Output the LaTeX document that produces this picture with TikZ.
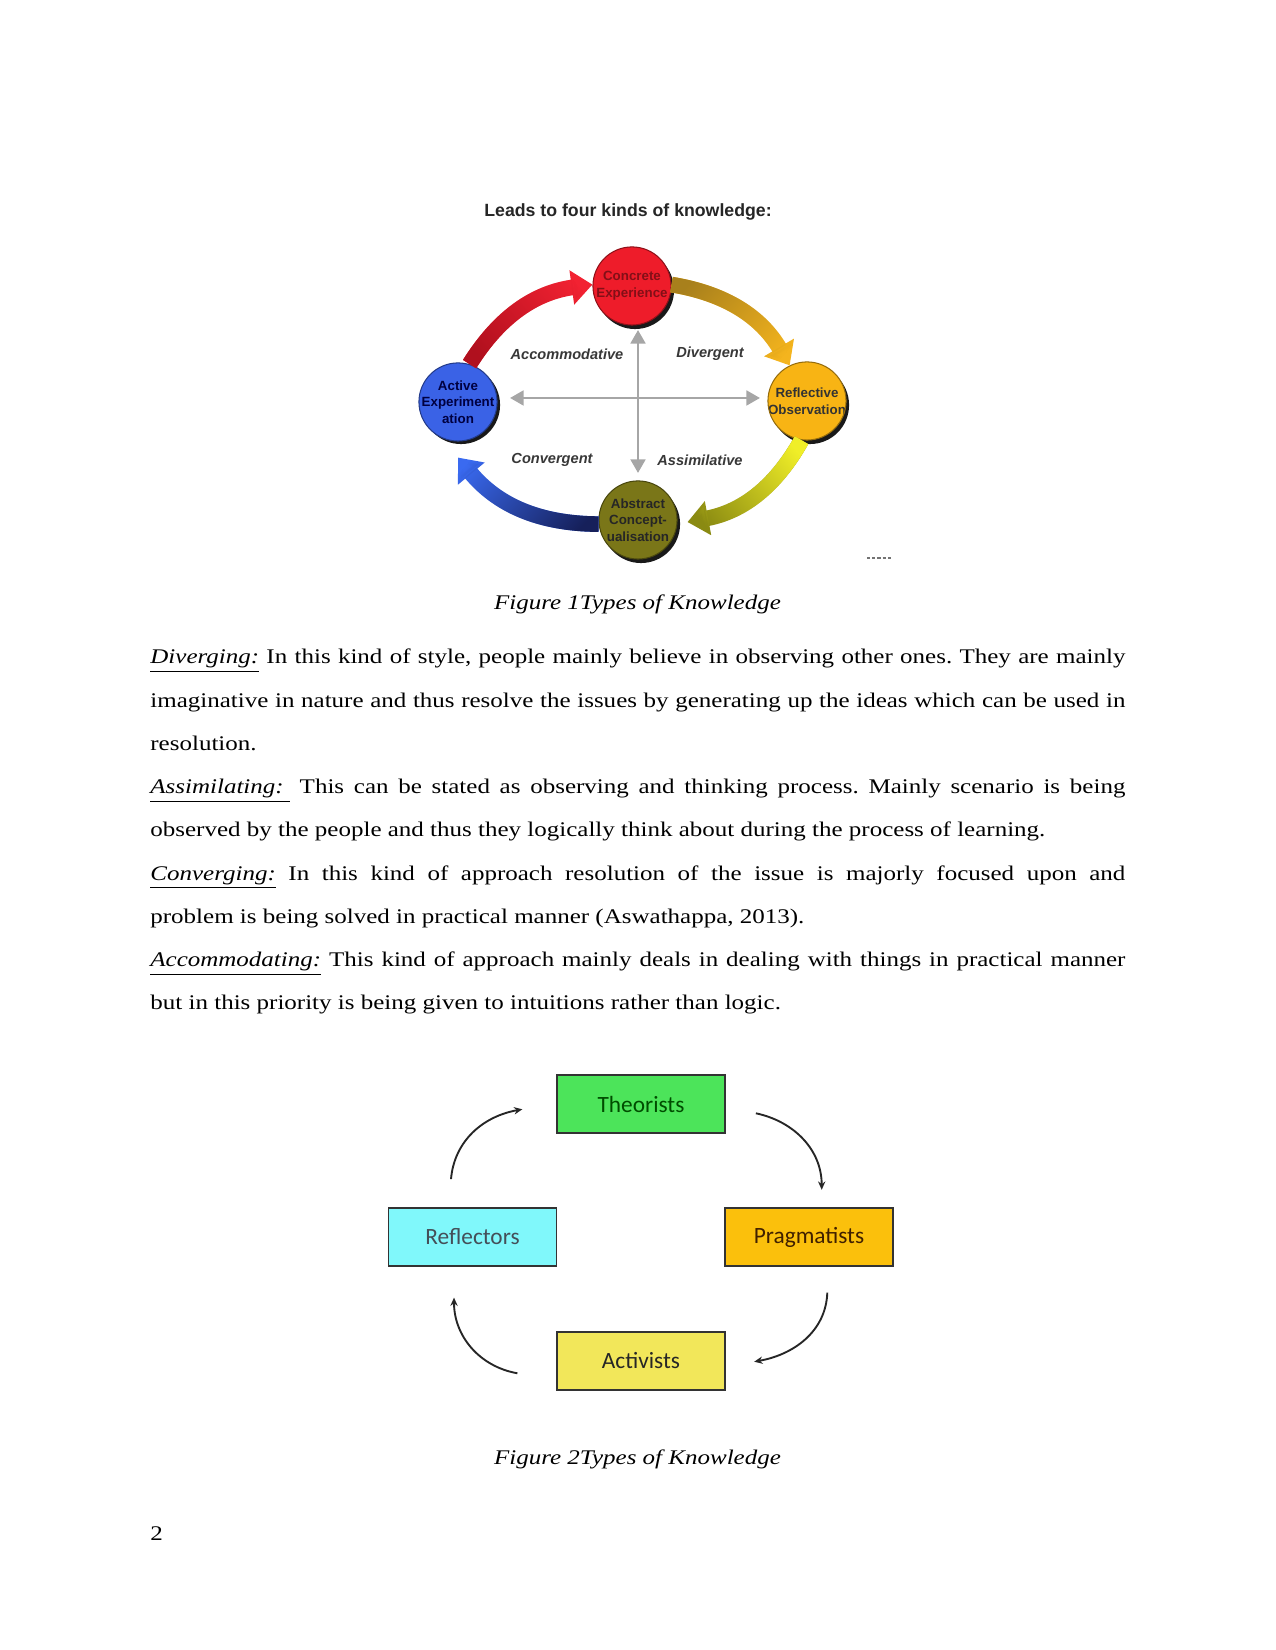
\documentclass[tikz,border=0pt]{standalone}
\usepackage{fontspec}
\setmainfont{Liberation Serif}[FakeStretch=1.2]
\newfontfamily\arialf{Liberation Sans}
\newfontfamily\calf{Carlito}
\usetikzlibrary{arrows.meta,calc,fadings}
\definecolor{cred}{HTML}{EE1C2A}
\definecolor{corange}{HTML}{F8B414}
\definecolor{colive}{HTML}{7A7618}
\definecolor{cblue}{HTML}{3A62E6}
\definecolor{aredA}{HTML}{B0101E}
\definecolor{aredB}{HTML}{F22232}
\definecolor{agoldA}{HTML}{A8801C}
\definecolor{agoldB}{HTML}{F4B41E}
\definecolor{ayelA}{HTML}{F0EE28}
\definecolor{ayelB}{HTML}{8A8A12}
\definecolor{ablueA}{HTML}{16205A}
\definecolor{ablueB}{HTML}{3A6AF0}
\definecolor{bgreen}{HTML}{4CE45A}
\definecolor{bcyan}{HTML}{80F8FB}
\definecolor{borange}{HTML}{FBC00C}
\definecolor{byellow}{HTML}{F2E75A}
\begin{document}
\frenchspacing
\begin{tikzpicture}[x=0.48pt,y=0.48pt,
  ballshadow/.style={circle, fill=black!90, minimum size=37.5pt, inner sep=0pt},
  ball/.style={circle, minimum size=37.5pt, inner sep=0pt, line width=0.5pt},
  balltext/.style={font=\arialf\bfseries\fontsize{6.4pt}{8pt}\selectfont, align=center, inner sep=0pt},
  bigarrow/.style={line width=7.5pt, -{Triangle[width=16pt,length=10pt]}},
  axisarrow/.style={line width=1.4pt, draw=black!35, {Triangle[width=7pt,length=6.5pt]}-{Triangle[width=7pt,length=6.5pt]}},
  quadlabel/.style={font=\arialf\bfseries\itshape\fontsize{7pt}{8pt}\selectfont, text=black!78},
  lsbox/.style={draw=black!80, line width=0.9pt, minimum width=80.6pt, minimum height=27.8pt, inner sep=0pt, font=\calf\fontsize{11.2pt}{13pt}\selectfont},
  thinarrow/.style={line width=0.9pt, draw=black!85, -{Stealth[length=4pt,width=3.5pt]}},
  bodyline/.style={anchor=base west, inner sep=0pt},
  caption/.style={anchor=base, inner sep=0pt, font=\itshape}
]
\useasboundingbox (0,0) rectangle (1275,1650);
\fill[white] (0,0) rectangle (1275,1650);

% ---------- Figure 1 ----------
\node[font=\arialf\bfseries\fontsize{8.5pt}{10pt}\selectfont, text=black!85] (title) at (628,1438) {Leads to four kinds of knowledge:};

\node[ballshadow] (concS) at (635,1360) {};
\node[ballshadow] (reflS) at (810,1245) {};
\node[ballshadow] (absS) at (641,1126) {};
\node[ballshadow] (actS) at (461,1245) {};

\node[ball, fill=cred, draw=cred!60!black,
  path picture={\node[balltext, text=cred!55!black] at (path picture bounding box.center) {Concrete\\Experience};}] (conc) at (632,1364) {};
\node[ball, fill=corange, draw=corange!60!black,
  path picture={\node[balltext, text=black!80] at (path picture bounding box.center) {Reflective\\Observation};}] (refl) at (807,1249) {};
\node[ball, fill=colive, draw=colive!60!black,
  path picture={\node[balltext, text=black!85] at (path picture bounding box.center) {Abstract\\Concept-\\ualisation};}] (abs) at (638,1130) {};
\node[ball, fill=cblue, draw=cblue!60!black,
  path picture={\node[balltext, text=blue!25!black] at (path picture bounding box.center) {Active\\Experiment\\ation};}] (act) at (458,1248) {};

\coordinate (hl) at (510,1252);
\coordinate (hr) at (760,1252);
\coordinate (vt) at (638,1320);
\coordinate (vb) at (638,1177);
\draw[axisarrow] (hl) -- (hr);
\draw[axisarrow] (vt) -- (vb);

\node[quadlabel] (qacc) at (567,1296) {Accommodative};
\node[quadlabel] (qdiv) at (710,1296) {Divergent};
\node[quadlabel] (qcon) at (552,1190) {Convergent};
\node[quadlabel] (qass) at (700,1190) {Assimilative};

\draw[bigarrow, aredB] (act.73) to[bend left=25] (conc.178);
\draw[bigarrow, aredA, path fading=east, fading angle=31] (act.73) to[bend left=25] (conc.178);
\draw[bigarrow, agoldB] (conc.2) to[bend left=25] (refl.116);
\draw[bigarrow, agoldA, path fading=east, fading angle=-33] (conc.2) to[bend left=25] (refl.116);
\draw[bigarrow, ayelB] (refl.262) to[bend left=25] ($(abs.357)+(10,0)$);
\draw[bigarrow, ayelA, path fading=east, fading angle=212] (refl.262) to[bend left=25] ($(abs.357)+(10,0)$);
\draw[bigarrow, ablueB] (abs.186) to[bend left=25] ($(act.270)+(0,-16)$);
\draw[bigarrow, ablueA, path fading=east, fading angle=154] (abs.186) to[bend left=25] ($(act.270)+(0,-16)$);

\draw[black!55, line width=0.8pt, dash pattern=on 1.5pt off 1pt] (867,1092) -- (892,1092);

\node[caption] (cap1) at (637.5,1040) {Figure 1Types of Knowledge};

% ---------- Body text ----------
\node[bodyline] (l1) at (150,986) {\makebox[468pt][s]{\underline{\textit{Diverging:}} In this kind of style, people mainly believe in observing other ones. They are mainly}};
\node[bodyline] (l2) at (150,942.75) {\makebox[468pt][s]{imaginative in nature and thus resolve the issues by generating up the ideas which can be used in}};
\node[bodyline] (l3) at (150,899.5) {resolution.};
\node[bodyline] (l4) at (150,856.25) {\makebox[468pt][s]{\underline{\textit{Assimilating:}\ }\ This can be stated as observing and thinking process. Mainly scenario is being}};
\node[bodyline] (l5) at (150,813) {observed by the people and thus they logically think about during the process of learning.};
\node[bodyline] (l6) at (150,769.75) {\makebox[468pt][s]{\underline{\textit{Converging:}} In this kind of approach resolution of the issue is majorly focused upon and}};
\node[bodyline] (l7) at (150,726.5) {problem is being solved in practical manner (Aswathappa, 2013).};
\node[bodyline] (l8) at (150,683.25) {\makebox[468pt][s]{\underline{\textit{Accommodating:}} This kind of approach mainly deals in dealing with things in practical manner}};
\node[bodyline] (l9) at (150,640) {but in this priority is being given to intuitions rather than logic.};

% ---------- Figure 2 ----------
\node[lsbox, fill=bgreen, text=green!30!black] (theo) at (641,546) {Theorists};
\node[lsbox, fill=bcyan, text=cyan!25!black] (refls) at (472.5,413) {Reflectors};
\node[lsbox, fill=borange, text=orange!25!black] (prag) at (809,413) {Pragmatists};
\node[lsbox, fill=byellow, text=black!85] (acti) at (641,289) {Activists};

\draw[thinarrow] ($(refls.north)+(-21.5,28)$) to[out=85,in=190] ($(theo.west)+(-33.7,-5.3)$);
\draw[thinarrow] ($(theo.east)+(30,-9.3)$) to[out=-12,in=90] ($(prag.north)+(12.7,17.3)$);
\draw[thinarrow] ($(prag.south)+(18.3,-25.7)$) to[out=-92,in=10] ($(acti.east)+(28.3,-0.7)$);
\draw[thinarrow] ($(acti.west)+(-38.7,-12.3)$) to[out=170,in=-90] ($(refls.south)+(-18.5,-30.7)$);

\node[caption] (cap2) at (637.5,185) {Figure 2Types of Knowledge};
\node[bodyline] (pnum) at (150,109) {2};
\end{tikzpicture}
\end{document}
